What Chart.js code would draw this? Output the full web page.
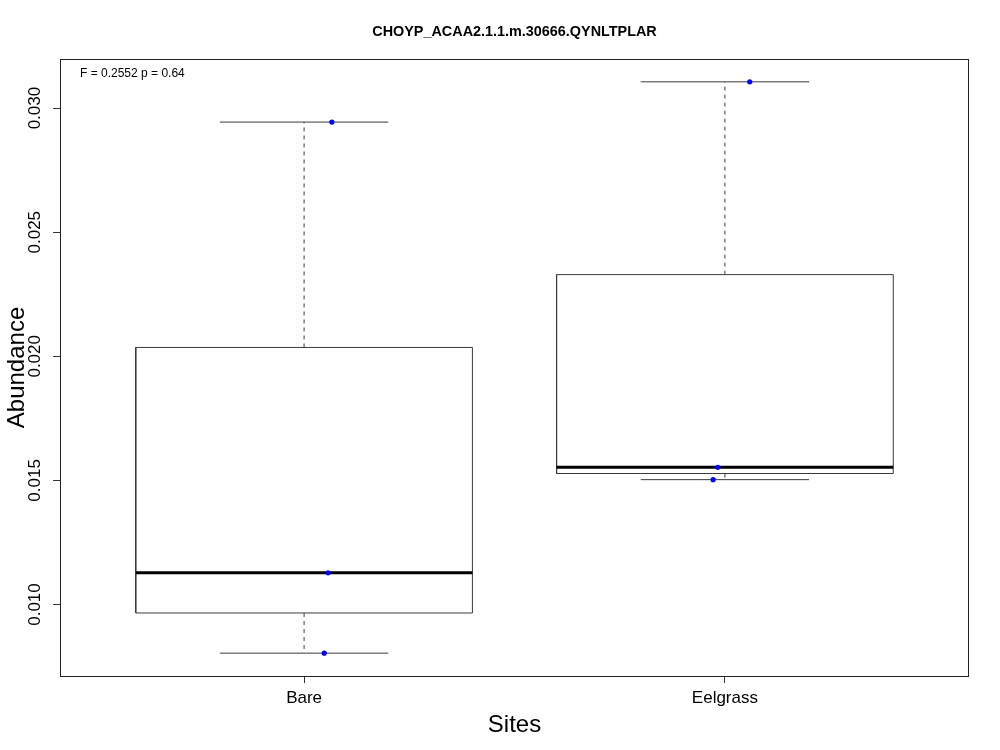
<!DOCTYPE html>
<html>
<head>
<meta charset="utf-8">
<script src="https://cdn.jsdelivr.net/npm/chart.js@4"></script>
<style>
  html, body { margin: 0; padding: 0; background: #ffffff; }
  canvas { display: block; }
</style>
</head>
<body>
<canvas id="c" width="1000" height="750"></canvas>
<script>
// ---- data ----
const chartTitle = 'CHOYP_ACAA2.1.1.m.30666.QYNLTPLAR';
const statText = 'F = 0.2552 p = 0.64';
const categories = ['Bare', 'Eelgrass'];
const bareValues = [0.029437, 0.011276, 0.008040];
const eelgrassValues = [0.031058, 0.015525, 0.015030];
const bareJitter = [0.066, 0.057, 0.048];
const eelgrassJitter = [0.059, -0.017, -0.028];
const yTickValues = [0.010, 0.015, 0.020, 0.025, 0.030];
const xLabel = 'Sites';
const yLabel = 'Abundance';

const groups = [bareValues, eelgrassValues];
const jitters = [bareJitter, eelgrassJitter];
const FONT = "'Liberation Sans', Arial, Helvetica, sans-serif";

// Tukey five-number summary (as R's fivenum)
function fivenum(v) {
  const x = v.slice().sort((a, b) => a - b);
  const n = x.length;
  const n4 = Math.floor((n + 3) / 2) / 2;
  const d = [1, n4, (n + 1) / 2, n + 1 - n4, n];
  return d.map(di => 0.5 * (x[Math.floor(di) - 1] + x[Math.ceil(di) - 1]));
}
function boxStats(v) {
  const f = fivenum(v);
  const iqr = f[3] - f[1];
  const inside = v.filter(t => t >= f[1] - 1.5 * iqr && t <= f[3] + 1.5 * iqr);
  return { lo: Math.min(...inside), q1: f[1], med: f[2], q3: f[3], hi: Math.max(...inside) };
}

const stats = groups.map(boxStats);
const BOXW = 0.4, STAPLE = 0.2;

const boxPts = [], medPts = [], whiskPts = [], staplePts = [], dotPts = [];
stats.forEach((s, i) => {
  const c = i + 1;
  boxPts.push({x: c - BOXW, y: s.q1}, {x: c + BOXW, y: s.q1}, {x: c + BOXW, y: s.q3},
              {x: c - BOXW, y: s.q3}, {x: c - BOXW, y: s.q1}, {x: c, y: null});
  medPts.push({x: c - BOXW, y: s.med}, {x: c + BOXW, y: s.med}, {x: c, y: null});
  whiskPts.push({x: c, y: s.q3}, {x: c, y: s.hi}, {x: c, y: null},
                {x: c, y: s.q1}, {x: c, y: s.lo}, {x: c, y: null});
  staplePts.push({x: c - STAPLE, y: s.hi}, {x: c + STAPLE, y: s.hi}, {x: c, y: null},
                 {x: c - STAPLE, y: s.lo}, {x: c + STAPLE, y: s.lo}, {x: c, y: null});
  groups[i].forEach((v, j) => dotPts.push({x: c + jitters[i][j], y: v}));
});

const allVals = groups.flat();
const yMinD = Math.min(...allVals), yMaxD = Math.max(...allVals);
const yPad = 0.04 * (yMaxD - yMinD);
const xMin = 0.5 - 0.04 * categories.length, xMax = categories.length + 0.5 + 0.04 * categories.length;

const lineDs = (label, data, opts) => Object.assign({
  label, data, showLine: true, spanGaps: false, pointRadius: 0, pointHoverRadius: 0,
  fill: false, borderColor: '#3a3a3a', borderWidth: 1, tension: 0
}, opts);

const framePlugin = {
  id: 'frameAndText',
  afterDatasetsDraw(chart) {
    const {ctx, chartArea: a} = chart;
    ctx.save();
    ctx.strokeStyle = '#222';
    ctx.lineWidth = 1;
    ctx.strokeRect(Math.round(a.left) + 0.5, Math.round(a.top) + 0.5,
                   Math.round(a.right - a.left) - 1, Math.round(a.bottom - a.top));
    ctx.fillStyle = '#000';
    ctx.font = '12px ' + FONT;
    ctx.textAlign = 'left';
    ctx.textBaseline = 'middle';
    ctx.fillText(statText, a.left + 20, a.top + 15);
    ctx.restore();
  }
};

new Chart(document.getElementById('c'), {
  type: 'scatter',
  data: {
    datasets: [
      { label: 'points', data: dotPts, showLine: false, pointRadius: 2.6, pointBorderWidth: 0,
        pointBackgroundColor: '#0000ff', pointBorderColor: '#0000ff', order: 0 },
      lineDs('median', medPts, { borderColor: '#000', borderWidth: 3, order: 1 }),
      lineDs('box', boxPts, { order: 2 }),
      lineDs('whisker', whiskPts, { borderDash: [4, 4], order: 3 }),
      lineDs('staple', staplePts, { order: 3 })
    ]
  },
  options: {
    responsive: false,
    animation: false,
    devicePixelRatio: 1,
    layout: { padding: { left: 0, right: 31, top: 0, bottom: 0 } },
    plugins: {
      legend: { display: false },
      tooltip: { enabled: false },
      title: {
        display: true, text: chartTitle, fullSize: false, color: '#000',
        font: { family: FONT, size: 14.4, weight: 'bold' },
        padding: { top: 23.2, bottom: 18.5 }
      }
    },
    scales: {
      x: {
        type: 'linear', position: 'bottom', min: xMin, max: xMax,
        afterBuildTicks: s => { s.ticks = categories.map((_, i) => ({ value: i + 1 })); },
        afterFit: s => { s.height = 74; },
        ticks: {
          callback: v => categories[Math.round(v) - 1] || '',
          color: '#000', font: { family: FONT, size: 17 }, padding: 5, maxRotation: 0, autoSkip: false
        },
        grid: { drawOnChartArea: false, drawTicks: true, tickLength: 7, color: '#333', lineWidth: 1 },
        border: { display: false },
        title: { display: true, text: xLabel, color: '#000', font: { family: FONT, size: 24 },
                 padding: { top: 0, bottom: 10 } }
      },
      y: {
        type: 'linear', position: 'left', min: yMinD - yPad, max: yMaxD + yPad,
        afterBuildTicks: s => { s.ticks = yTickValues.map(v => ({ value: v })); },
        afterFit: s => { s.width = 60; },
        ticks: {
          callback: v => v.toFixed(3),
          color: '#000', font: { family: FONT, size: 17 }, minRotation: 90, maxRotation: 90,
          crossAlign: 'center', padding: -4, autoSkip: false
        },
        grid: { drawOnChartArea: false, drawTicks: true, tickLength: 7, color: '#333', lineWidth: 1 },
        border: { display: false },
        title: { display: true, text: yLabel, color: '#000', font: { family: FONT, size: 24 },
                 padding: { top: 2.5, bottom: 0 } }
      }
    }
  },
  plugins: [framePlugin]
});
</script>
</body>
</html>
